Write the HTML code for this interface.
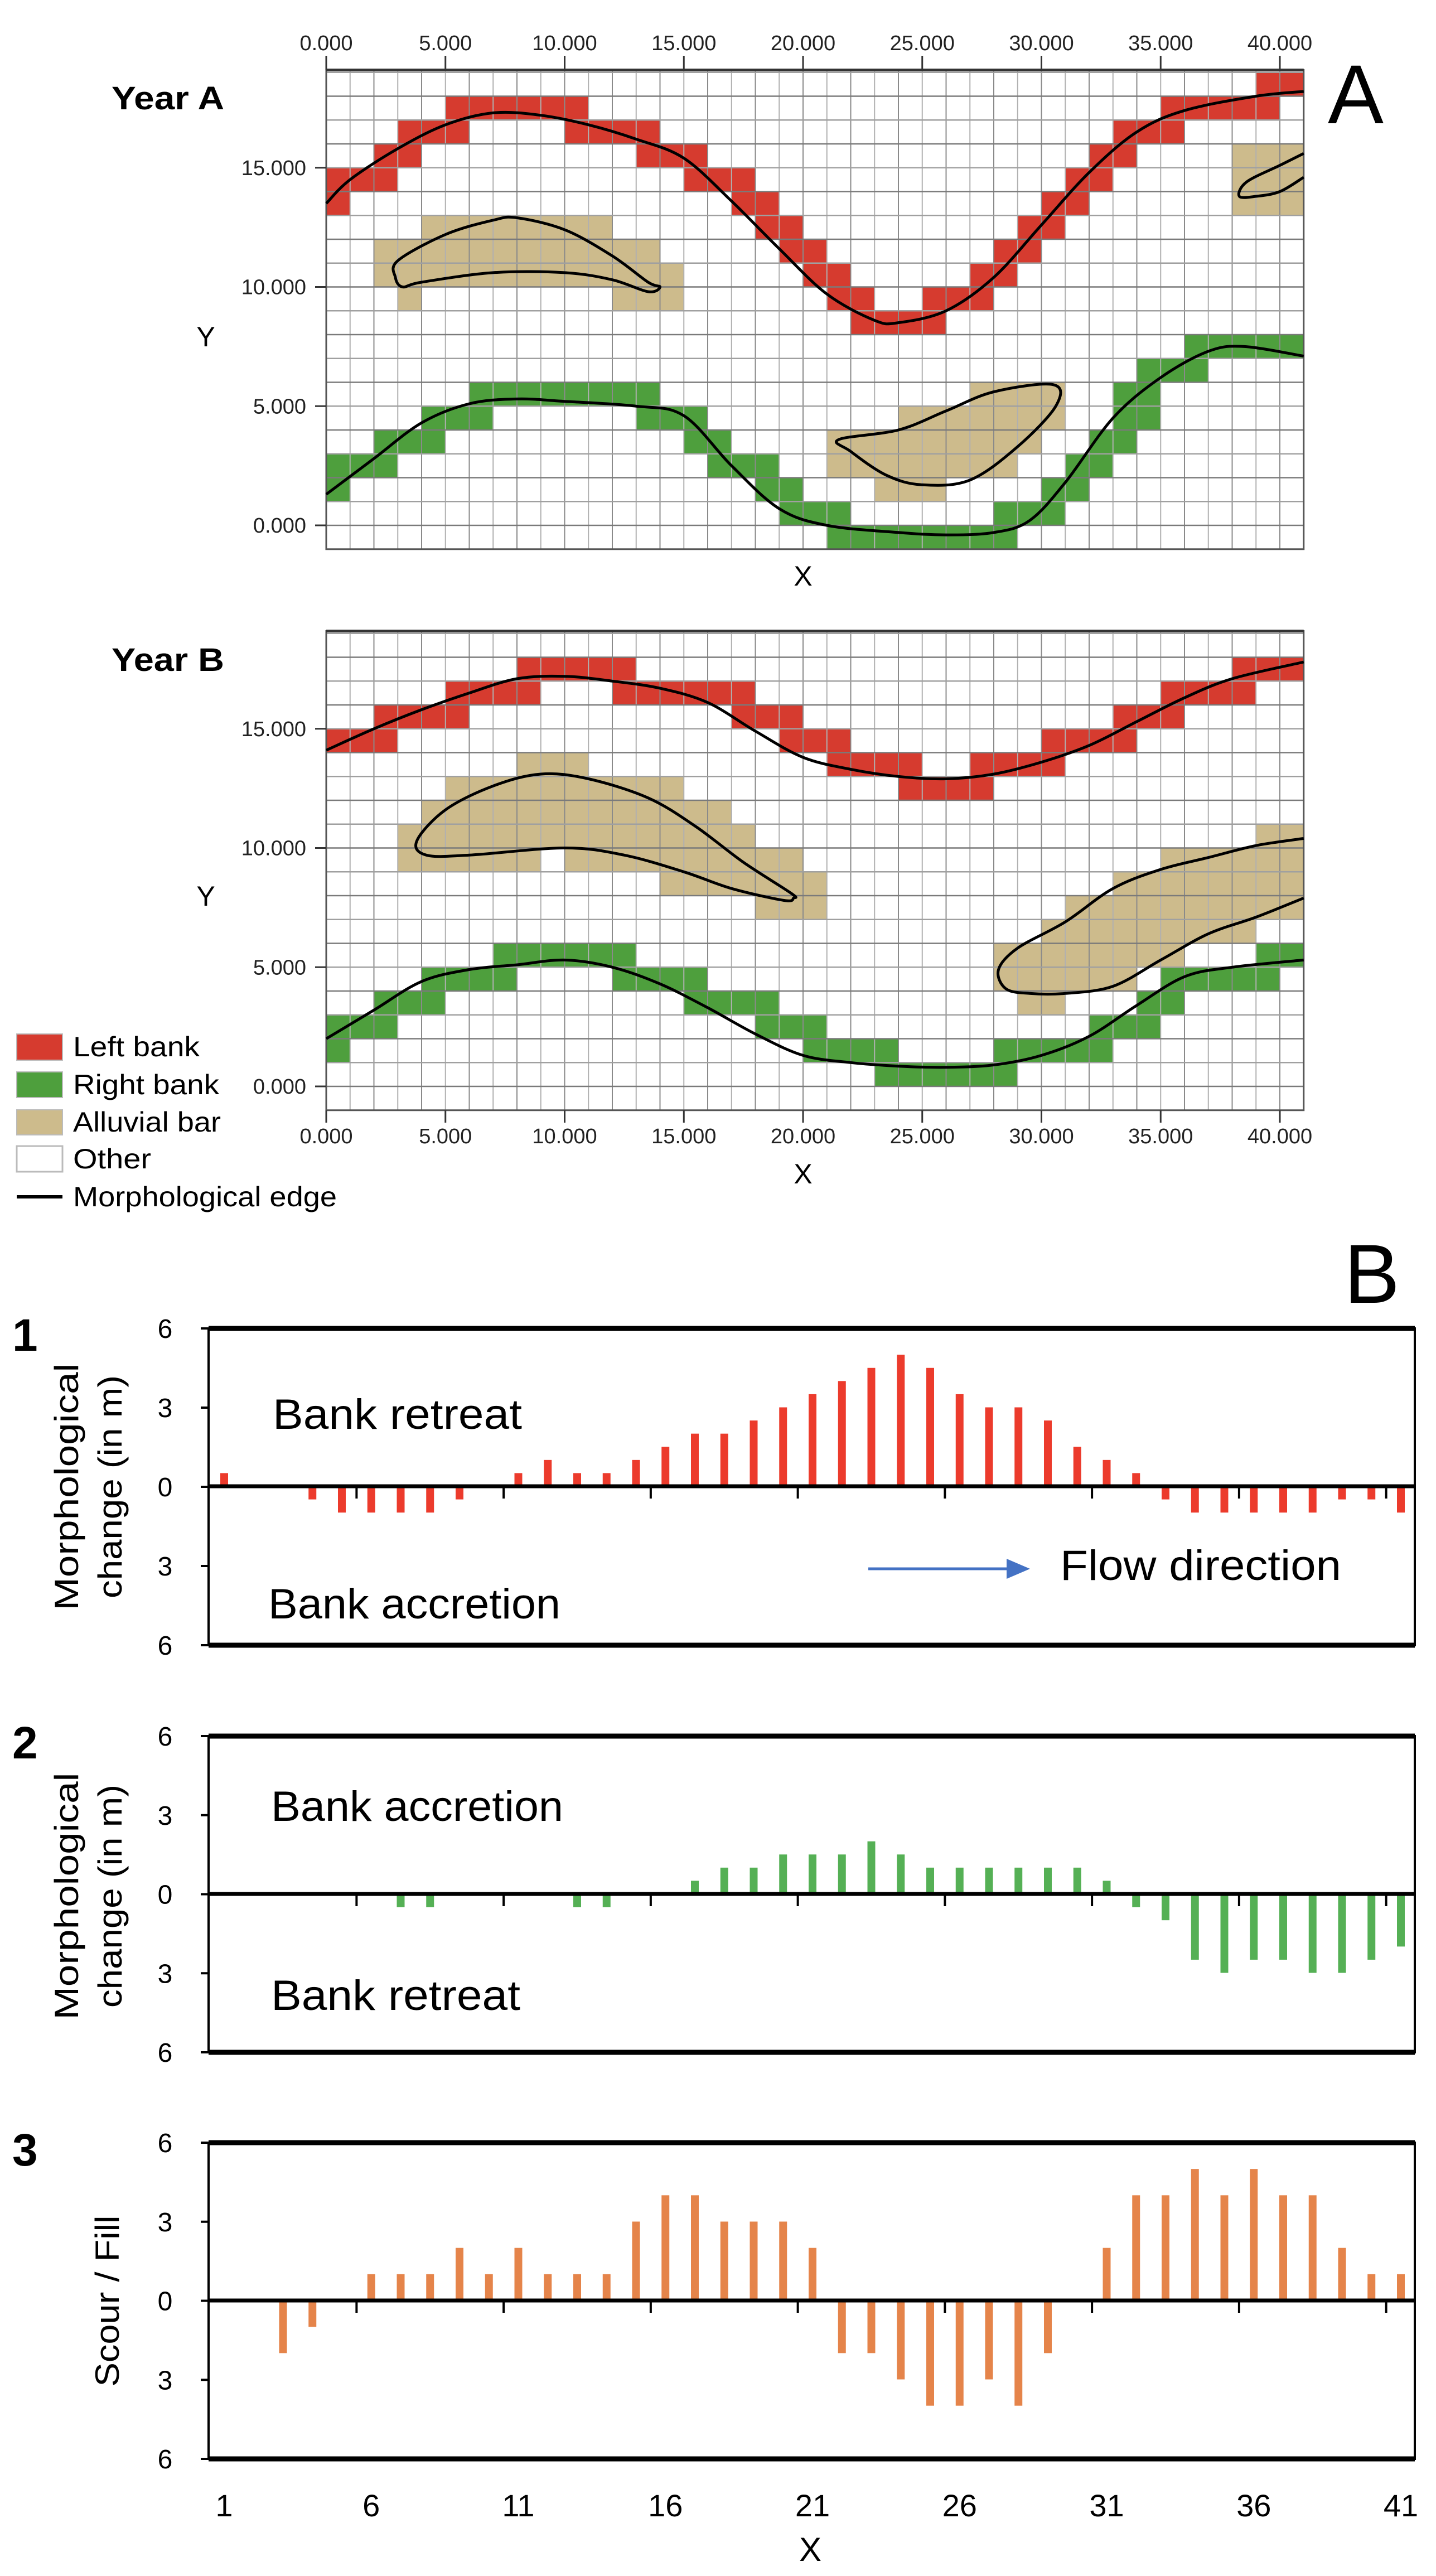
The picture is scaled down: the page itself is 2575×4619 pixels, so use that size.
<!DOCTYPE html>
<html><head><meta charset="utf-8"><title>Morphological change</title>
<style>
html,body{margin:0;padding:0;background:#fff;}
svg{display:block;font-family:"Liberation Sans",Arial,sans-serif;}
</style></head>
<body>
<svg id="fig" width="2575" height="4619" viewBox="0 0 2575 4619" xmlns="http://www.w3.org/2000/svg">
<rect x="0" y="0" width="2575" height="4619" fill="#fff"/>
<g id="mapA"></g>
<g id="mapB"></g>
<text x="200" y="196" font-size="58" font-weight="bold" textLength="202" lengthAdjust="spacingAndGlyphs">Year A</text>
<text x="200" y="1203" font-size="58" font-weight="bold" textLength="202" lengthAdjust="spacingAndGlyphs">Year B</text>
<text x="2381" y="221" font-size="150">A</text>
<text x="2410" y="2336" font-size="150">B</text>
<text x="369" y="621" font-size="50" text-anchor="middle">Y</text>
<text x="369" y="1624" font-size="50" text-anchor="middle">Y</text>
<text x="1440" y="1050" font-size="50" text-anchor="middle">X</text>
<text x="1440" y="2122" font-size="50" text-anchor="middle">X</text>
<g>
  <rect x="30" y="1854" width="82" height="47" fill="#D63B2F" stroke="#bbb" stroke-width="2"/>
  <text x="131" y="1894" font-size="50" textLength="227" lengthAdjust="spacingAndGlyphs">Left bank</text>
  <rect x="30" y="1922" width="82" height="46" fill="#4E9F3D" stroke="#bbb" stroke-width="2"/>
  <text x="131" y="1962" font-size="50" textLength="262" lengthAdjust="spacingAndGlyphs">Right bank</text>
  <rect x="30" y="1990" width="82" height="45" fill="#CDBB8C" stroke="#bbb" stroke-width="2"/>
  <text x="131" y="2029" font-size="50" textLength="265" lengthAdjust="spacingAndGlyphs">Alluvial bar</text>
  <rect x="30" y="2055" width="82" height="46" fill="#fff" stroke="#bbb" stroke-width="3"/>
  <text x="131" y="2095" font-size="50" textLength="140" lengthAdjust="spacingAndGlyphs">Other</text>
  <line x1="30" y1="2146" x2="112" y2="2146" stroke="#000" stroke-width="6"/>
  <text x="131" y="2163" font-size="50" textLength="473" lengthAdjust="spacingAndGlyphs">Morphological edge</text>
</g>
<g id="charts"></g>
<text x="22" y="2422" font-size="82" font-weight="bold">1</text>
<text x="22" y="3153" font-size="82" font-weight="bold">2</text>
<text x="22" y="3883" font-size="82" font-weight="bold">3</text>
<text transform="translate(140,2666) rotate(-90)" font-size="60" text-anchor="middle" textLength="443" lengthAdjust="spacingAndGlyphs">Morphological</text>
<text transform="translate(218,2666) rotate(-90)" font-size="60" text-anchor="middle" textLength="400" lengthAdjust="spacingAndGlyphs">change (in m)</text>
<text transform="translate(140,3400) rotate(-90)" font-size="60" text-anchor="middle" textLength="443" lengthAdjust="spacingAndGlyphs">Morphological</text>
<text transform="translate(218,3400) rotate(-90)" font-size="60" text-anchor="middle" textLength="400" lengthAdjust="spacingAndGlyphs">change (in m)</text>
<text transform="translate(213,4126) rotate(-90)" font-size="60" text-anchor="middle" textLength="307" lengthAdjust="spacingAndGlyphs">Scour / Fill</text>
<text x="489" y="2562" font-size="76" textLength="447" lengthAdjust="spacingAndGlyphs">Bank retreat</text>
<text x="481" y="2902" font-size="76" textLength="524" lengthAdjust="spacingAndGlyphs">Bank accretion</text>
<line x1="1557" y1="2813" x2="1815" y2="2813" stroke="#4472C4" stroke-width="5"/>
<polygon points="1805,2795 1847,2813 1805,2831" fill="#4472C4"/>
<text x="1901" y="2833" font-size="76" textLength="504" lengthAdjust="spacingAndGlyphs">Flow direction</text>
<text x="486" y="3265" font-size="76" textLength="524" lengthAdjust="spacingAndGlyphs">Bank accretion</text>
<text x="486" y="3604" font-size="76" textLength="447" lengthAdjust="spacingAndGlyphs">Bank retreat</text>
<text x="1453" y="4592" font-size="60" text-anchor="middle">X</text>

<script>
// ---------- MAP DATA (cells: [row, colStart, colEnd]) ----------
var yearALeft = [[14,0,2],[13,0,0],[15,2,3],[16,3,5],[17,5,10],[16,10,13],[15,13,15],[14,15,17],[13,17,18],[12,18,19],[11,19,20],[10,20,21],[9,21,22],[8,22,25],[9,25,27],[10,27,28],[11,28,29],[12,29,30],[13,30,31],[14,31,32],[15,32,33],[16,33,35],[17,35,39],[18,39,40]];
var yearABar = [[12,4,11],[11,2,13],[10,2,14],[9,3,3],[9,12,14],[13,38,40],[14,38,40],[15,38,40],[5,27,30],[4,24,30],[3,21,29],[2,21,28],[1,23,25]];
var yearARight = [[2,0,2],[1,0,0],[3,2,4],[4,4,6],[5,6,13],[4,13,15],[3,15,16],[2,16,18],[1,18,19],[0,19,21],[-1,21,28],[0,28,30],[1,30,31],[2,31,32],[3,32,33],[4,33,34],[5,33,34],[6,34,36],[7,36,40]];
var yearBLeft = [[14,0,2],[14,19,21],[14,30,33],[15,2,5],[15,17,19],[15,33,35],[16,5,8],[16,12,17],[16,35,38],[17,8,12],[17,38,40],[13,21,24],[13,27,30],[12,24,27]];
var yearBBar = [[13,8,10],[12,5,14],[11,4,16],[10,3,17],[10,39,40],[9,3,8],[9,10,19],[9,35,40],[8,14,20],[8,33,40],[7,18,20],[7,31,40],[6,30,38],[5,28,35],[4,28,33],[3,29,30]];
var yearBRight = [[5,7,12],[5,39,40],[4,4,7],[4,12,15],[4,35,39],[3,2,4],[3,15,18],[3,34,35],[2,0,2],[2,18,20],[2,32,34],[1,0,0],[1,20,23],[1,28,32],[0,23,28]];
// edge lines [x,y]
var yearALeftEdge = [[0,13.5],[1,14.5],[3,15.8],[5,16.8],[7,17.3],[9,17.2],[11,16.8],[13,16.2],[15,15.4],[17,13.6],[19,11.6],[21,9.7],[23,8.6],[24,8.5],[26,9],[28,10.4],[30,12.6],[32,14.8],[34,16.5],[36,17.4],[39,18],[41,18.2]];
var yearARightEdge = [[0,1.3],[2,2.8],[4,4.3],[6,5.1],[8,5.3],[10,5.2],[13,5],[15,4.6],[17,2.5],[19,0.7],[21,0],[24,-0.3],[26,-0.4],[28,-0.3],[29.5,0.2],[31,1.8],[33,4.5],[35,6.2],[37,7.3],[38.5,7.5],[41,7.1]];
var yearABar1 = [[3,11.1],[5,12.2],[7,12.8],[8,12.9],[10,12.4],[12,11.3],[13.5,10.2],[14,10],[13.5,9.8],[12,10.3],[10,10.6],[7,10.6],[4,10.2],[3.2,10],[2.9,10.4]];
var yearABar2 = [[41,14.6],[40,14],[39,13.8],[38.3,13.8],[38.6,14.4],[40,15.1],[41,15.6]];
var yearABar3 = [[21.5,3.6],[24,4],[26,4.8],[28,5.6],[30.5,5.9],[30.6,5],[29,3.3],[27,1.9],[25,1.7],[23.5,2.1],[22,3.1]];
var yearBLeftEdge = [[0,14.1],[2,15],[4,15.8],[6,16.5],[8,17.1],[10,17.2],[12,17],[14,16.7],[16,16.1],[18,14.9],[20,13.8],[22,13.3],[24,13],[26,12.9],[28,13.1],[30,13.6],[32,14.3],[34,15.3],[36,16.3],[38,17.1],[41,17.8]];
var yearBRightEdge = [[0,2.0],[2,3.2],[4,4.4],[6,4.9],[8,5.1],[10,5.3],[12,5.0],[14,4.3],[16,3.3],[18,2.2],[20,1.3],[22,1.0],[24,0.85],[26,0.8],[28,0.9],[30,1.3],[32,2.1],[34,3.4],[36,4.6],[38,5.0],[41,5.3]];
var yearBBar1 = [[3.8,10.3],[5,11.6],[7,12.6],[9,13.1],[11,12.9],[13.5,12.1],[15.5,10.9],[17.5,9.4],[19.5,8.1],[19.6,7.9],[19.2,7.8],[17,8.3],[15,9],[12.5,9.7],[10,10],[6,9.7],[4.2,9.7]];
var yearBBar2 = [[41,10.4],[39,10.1],[37,9.6],[35,9.1],[33,8.3],[31,6.9],[29,5.8],[28.2,4.9],[28.5,4.1],[29.5,3.9],[31,3.9],[33,4.2],[35,5.3],[37,6.4],[39,7.1],[41,7.9]];
var mapTicks = [0,5,10,15,20,25,30,35,40];
var mapYTicks = [0,5,10,15];

// ---------- CHART DATA ----------
var categories = []; for (var c = 1; c <= 41; c++) categories.push(c);
var leftBankChange = [0.5,0,0,-0.5,-1,-1,-1,-1,-0.5,0,0.5,1,0.5,0.5,1,1.5,2,2,2.5,3,3.5,4,4.5,5,4.5,3.5,3,3,2.5,1.5,1,0.5,-0.5,-1,-1,-1,-1,-1,-0.5,-0.5,-1];
var rightBankChange = [0,0,0,0,0,0,-0.5,-0.5,0,0,0,0,-0.5,-0.5,0,0,0.5,1,1,1.5,1.5,1.5,2,1.5,1,1,1,1,1,1,0.5,-0.5,-1,-2.5,-3,-2.5,-2.5,-3,-3,-2.5,-2];
var scourFill = [0,0,-2,-1,0,1,1,1,2,1,2,1,1,1,3,4,4,3,3,3,2,-2,-2,-3,-4,-4,-3,-4,-2,0,2,4,4,5,4,5,4,4,2,1,1];
var valueTicks = ['6','3','0','3','6'];
var xTickLabels = ['1','6','11','16','21','26','31','36','41'];

var NS = 'http://www.w3.org/2000/svg';
function mk(parent, tag, attrs){ var e = document.createElementNS(NS, tag); for (var k in attrs) e.setAttribute(k, attrs[k]); parent.appendChild(e); return e; }

var MX0 = 585, MU = 42.75;
function mapX(x){ return MX0 + x*MU; }
function mapY(y, off){ return 942 + off - y*MU; }

function smoothPath(pts, off, closed){
  var P = pts.map(function(p){ return [mapX(p[0]), mapY(p[1], off)]; });
  var n = P.length, d = 'M' + P[0][0].toFixed(1) + ',' + P[0][1].toFixed(1);
  var segs = closed ? n : n-1;
  for (var i = 0; i < segs; i++){
    var p0 = P[closed ? (i-1+n)%n : Math.max(i-1,0)], p1 = P[i], p2 = P[(i+1)%n], p3 = P[closed ? (i+2)%n : Math.min(i+2,n-1)];
    var c1x = p1[0] + (p2[0]-p0[0])/6, c1y = p1[1] + (p2[1]-p0[1])/6;
    var c2x = p2[0] - (p3[0]-p1[0])/6, c2y = p2[1] - (p3[1]-p1[1])/6;
    d += ' C' + c1x.toFixed(1)+','+c1y.toFixed(1)+' '+c2x.toFixed(1)+','+c2y.toFixed(1)+' '+p2[0].toFixed(1)+','+p2[1].toFixed(1);
  }
  if (closed) d += ' Z';
  return d;
}

function drawMap(g, off, left, bar, right, edges, closedShapes, xLabelY, xTickY1, xTickY2){
  var top = mapY(19.1, off), bottom = mapY(-1, off), rightX = mapX(41);
  var groups = [[bar,'#CDBB8C','alluvial-bar-cell'],[left,'#D63B2F','left-bank-cell'],[right,'#4E9F3D','right-bank-cell']];
  groups.forEach(function(gr){
    gr[0].forEach(function(r){
      var y1 = Math.max(mapY(r[0]+1, off), top);
      var cell = mk(g, 'rect', {x: mapX(r[1]), y: y1, width: (r[2]-r[1]+1)*MU, height: mapY(r[0], off) - y1, fill: gr[1]});
      
      
    });
  });
  for (var i = 0; i <= 41; i++){
    var vl = mk(g, 'line', {x1: mapX(i), y1: top, x2: mapX(i), y2: bottom, stroke: (i%2 ? '#b0b0b0' : '#8a8a8a'), 'stroke-width': 2});
    
    
  }
  for (var j = -1; j <= 19; j++){
    var hl = mk(g, 'line', {x1: MX0, y1: mapY(j, off), x2: rightX, y2: mapY(j, off), stroke: (j%2 ? '#a0a0a0' : '#7a7a7a'), 'stroke-width': 2.5});
    
    
  }
  var border = mk(g, 'rect', {x: MX0, y: top, width: rightX-MX0, height: bottom-top, fill: 'none', stroke: '#555', 'stroke-width': 3});
  
  
  var tb = mk(g, 'line', {x1: MX0, y1: top, x2: rightX, y2: top, stroke: '#333', 'stroke-width': 5});
  
  
  edges.forEach(function(e){
    var p = mk(g, 'path', {d: smoothPath(e, off, false), fill: 'none', stroke: '#000', 'stroke-width': 5});
    
    
  });
  closedShapes.forEach(function(e){
    var p = mk(g, 'path', {d: smoothPath(e, off, true), fill: 'none', stroke: '#000', 'stroke-width': 5});
    
    
  });
  mapTicks.forEach(function(t){
    var tk = mk(g, 'line', {x1: mapX(t), y1: xTickY1, x2: mapX(t), y2: xTickY2, stroke: '#333', 'stroke-width': 3});
    
    
    var tl = mk(g, 'text', {x: mapX(t), y: xLabelY, 'font-size': 38, 'text-anchor': 'middle', fill: '#222'});
    tl.textContent = t.toFixed(3);
    
    
  });
  mapYTicks.forEach(function(t){
    var tk = mk(g, 'line', {x1: 565, y1: mapY(t, off), x2: MX0, y2: mapY(t, off), stroke: '#333', 'stroke-width': 3});
    
    
    var tl = mk(g, 'text', {x: 549, y: mapY(t, off) + 13, 'font-size': 38, 'text-anchor': 'end', fill: '#222'});
    tl.textContent = t.toFixed(3);
    
    
  });
}

drawMap(document.getElementById('mapA'), 0, yearALeft, yearABar, yearARight,
  [yearALeftEdge, yearARightEdge, yearABar2], [yearABar1, yearABar3], 90, 100, 126);
drawMap(document.getElementById('mapB'), 1006, yearBLeft, yearBBar, yearBRight,
  [yearBLeftEdge, yearBRightEdge, yearBBar2], [yearBBar1], 2050, 1991, 2013);

// ---------- CHARTS ----------
var CL = 374, CR = 2537;
function catX(i){ return 402 + (i-1)*52.75; }
function drawChart(top, zero, bottom, values, color, name, showXLabels){
  var g = document.getElementById('charts');
  var unit = (zero - top)/6;
  function valY(v){ return zero - v*unit; }
  var box = mk(g, 'rect', {x: CL, y: top, width: CR-CL, height: bottom-top, fill: 'none', stroke: '#000', 'stroke-width': 4});
  
  
  [top, bottom].forEach(function(yy){
    var l = mk(g, 'line', {x1: CL, y1: yy, x2: CR, y2: yy, stroke: '#000', 'stroke-width': 9});
    
    
  });
  values.forEach(function(v, i){
    if (v === 0) return;
    var y1 = Math.min(valY(v), zero), h = Math.abs(valY(v) - zero);
    var b = mk(g, 'rect', {x: catX(categories[i]) - 7, y: y1, width: 14, height: h, fill: color});
    
    
  });
  var z = mk(g, 'line', {x1: CL, y1: zero, x2: CR, y2: zero, stroke: '#000', 'stroke-width': 7});
  
  
  for (var k = 1; k <= 8; k++){
    var tx = catX(categories[5*k - 1] + 0.5);
    var t = mk(g, 'line', {x1: tx, y1: zero, x2: tx, y2: zero + 22, stroke: '#000', 'stroke-width': 4});
    
    
  }
  valueTicks.forEach(function(lbl, i){
    var yy = top + i*(bottom-top)/4;
    var t = mk(g, 'line', {x1: CL-14, y1: yy, x2: CL, y2: yy, stroke: '#000', 'stroke-width': 4});
    
    
    var tl = mk(g, 'text', {x: 296, y: yy + 17, 'font-size': 48, 'text-anchor': 'middle'});
    tl.textContent = lbl;
    
    
  });
  if (showXLabels){
    xTickLabels.forEach(function(lbl){
      var tl = mk(g, 'text', {x: catX(+lbl), y: 4512, 'font-size': 56, 'text-anchor': 'middle'});
      tl.textContent = lbl;
      
      
    });
  }
}
drawChart(2382, 2665, 2950, leftBankChange, '#EC3B2C', 'left-bank-chart', false);
drawChart(3113, 3396, 3680, rightBankChange, '#55B055', 'right-bank-chart', false);
drawChart(3842, 4125, 4409, scourFill, '#E5844A', 'scour-fill-chart', true);
</script>
</svg>
</body></html>
